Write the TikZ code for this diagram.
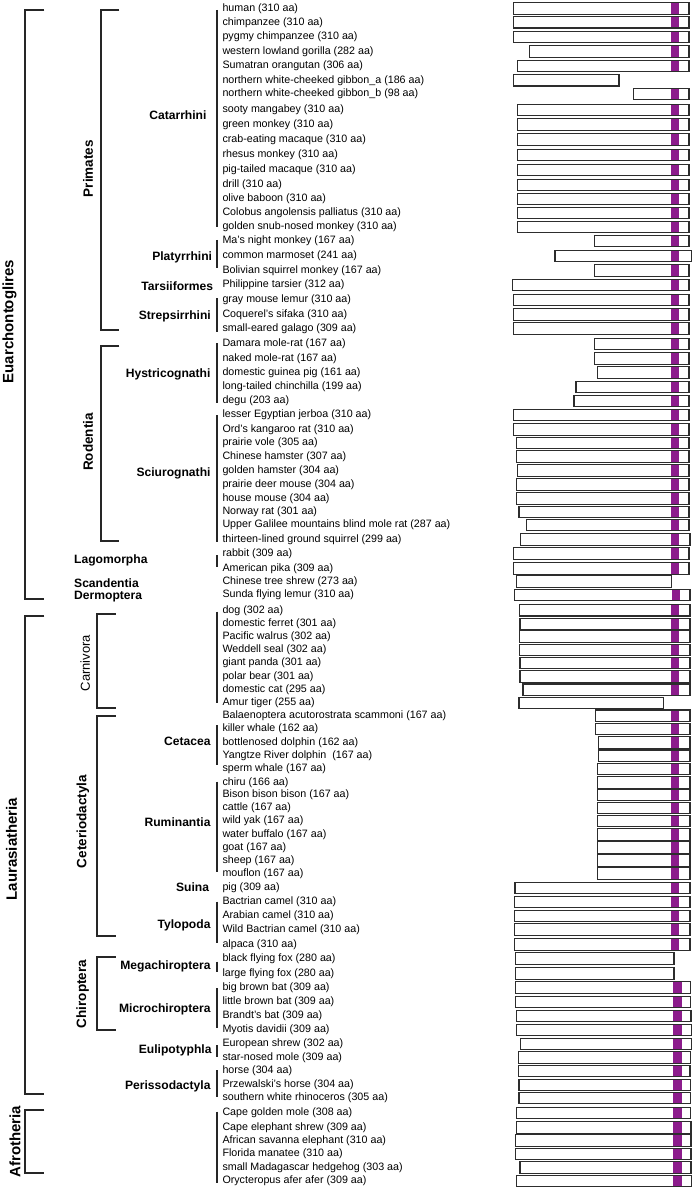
\documentclass[tikz,border=0pt]{standalone}
\usepackage{fontspec}
\setmainfont{Liberation Sans}
\usepackage{tikz}
\usetikzlibrary{positioning}
\definecolor{hitpurple}{RGB}{140,28,140}
\definecolor{barline}{RGB}{45,45,45}

\begin{document}
\begin{tikzpicture}[x=1pt,y=-1pt,
    species/.style={anchor=west,inner sep=0pt,font=\fontsize{10.7}{12}\selectfont},
    clade/.style={anchor=east,inner sep=0pt,font=\fontsize{12.1}{14}\selectfont\bfseries},
    ordlabel/.style={rotate=90,inner sep=0pt,font=\fontsize{13.5}{15}\selectfont\bfseries},
    suplabel/.style={rotate=90,inner sep=0pt,font=\fontsize{15}{17}\selectfont\bfseries},
    bracket/.style={line width=2pt,draw=black!85},
    groupline/.style={line width=1.7pt,draw=black!85},
    protein/.style={draw=barline,line width=1.3pt},
    hitband/.style={fill=hitpurple}]
    \useasboundingbox (0,0) rectangle (695,1190);

    % Species names and protein bars
    \foreach \y/\xl/\xr/\xp/\txt [count=\i] in {
        8.5/513.3/689/671/human (310 aa),
        22.3/513.3/689/671/chimpanzee (310 aa),
        37/513.3/689/671/pygmy chimpanzee (310 aa),
        51.5/529.3/689/671/western lowland gorilla (282 aa),
        66/517.7/689/671/Sumatran orangutan (306 aa),
        80.3/513.3/619/0/northern white-cheeked gibbon\_a (186 aa),
        94/633.3/689/671/northern white-cheeked gibbon\_b (98 aa),
        110/517.7/689/671/sooty mangabey (310 aa),
        124.5/517.7/689/671/green monkey (310 aa),
        139.5/517.7/689/671/crab-eating macaque (310 aa),
        155/517.7/689/671/rhesus monkey (310 aa),
        170/517.7/689/671/pig-tailed macaque (310 aa),
        185/517.7/689/671/drill (310 aa),
        199/517.7/689/671/olive baboon (310 aa),
        213/517.7/689/671/Colobus angolensis palliatus (310 aa),
        227/517.7/689/671/golden snub-nosed monkey (310 aa),
        241/594.3/689/671/Ma's night monkey (167 aa),
        256/555/691.7/671/common marmoset (241 aa),
        270.5/594.3/689/671/Bolivian squirrel monkey (167 aa),
        285/512.3/689/671/Philippine tarsier (312 aa),
        300/513.3/689/671/gray mouse lemur (310 aa),
        314.5/513.3/689/671/Coquerel's sifaka (310 aa),
        328.5/513.3/689/671/small-eared galago (309 aa),
        344/594.3/689/671/Damara mole-rat (167 aa),
        358.5/594.7/689/671/naked mole-rat (167 aa),
        372.5/597.7/689/671/domestic guinea pig (161 aa),
        387/576/689/671/long-tailed chinchilla (199 aa),
        401/574/689/671/degu (203 aa),
        415/513.3/689/671/lesser Egyptian jerboa (310 aa),
        429.5/513.3/689/671/Ord's kangaroo rat (310 aa),
        443/516.7/689/671/prairie vole (305 aa),
        456.5/516.7/689/671/Chinese hamster (307 aa),
        470.5/517.3/689/671/golden hamster (304 aa),
        484.5/516.7/689/671/prairie deer mouse (304 aa),
        498.5/516.7/689/671/house mouse (304 aa),
        512/519/689/671/Norway rat (301 aa),
        525/526.7/689/671/Upper Galilee mountains blind mole rat (287 aa),
        539.5/520.3/690/671/thirteen-lined ground squirrel (299 aa),
        553.5/513.3/689/671/rabbit (309 aa),
        568.5/513.3/689/671/American pika (309 aa),
        581.5/516.3/671.7/0/Chinese tree shrew (273 aa),
        595/514.3/690/672/Sunda flying lemur (310 aa),
        610.3/519.7/690/671/dog (302 aa),
        624/520/690/671/domestic ferret (301 aa),
        636.5/519.7/690/671/Pacific walrus (302 aa),
        650/519.3/690/671/Weddell seal (302 aa),
        663/520/690/671/giant panda (301 aa),
        676.5/520/690/671/polar bear (301 aa),
        689.7/523/690/671/domestic cat (295 aa),
        703/519/663.3/0/Amur tiger (255 aa),
        715.7/595.7/690/671/Balaenoptera acutorostrata scammoni (167 aa),
        729/595.7/690/671/killer whale (162 aa),
        742.5/598.3/690/671/bottlenosed dolphin (162 aa),
        755.7/598.3/690/671/Yangtze River dolphin\ \ (167 aa),
        769/597.7/690/671/sperm whale (167 aa),
        782.5/597.7/690/671/chiru (166 aa),
        795/597.7/690/671/Bison bison bison (167 aa),
        808/597.7/690/671/cattle (167 aa),
        821/597.7/690/671/wild yak (167 aa),
        834.5/597.7/690/671/water buffalo (167 aa),
        847.5/597.7/690/671/goat (167 aa),
        860.5/597.7/690/671/sheep (167 aa),
        873.5/597.7/690/671/mouflon (167 aa),
        888/515/690/671/pig (309 aa),
        902/514.7/690/671/Bactrian camel (310 aa),
        916/514.7/690/671/Arabian camel (310 aa),
        929.5/514.7/690/671/Wild Bactrian camel (310 aa),
        944.5/514.7/690/671/alpaca (310 aa),
        958.5/515.7/674/0/black flying fox (280 aa),
        973.5/515.7/674/0/large flying fox (280 aa),
        987.5/515.7/690.7/673.3/big brown bat (309 aa),
        1002/515.7/690.7/673.3/little brown bat (309 aa),
        1016/516.3/691/673.3/Brandt's bat (309 aa),
        1030/516.3/691.7/673.3/Myotis davidii (309 aa),
        1044/520.7/691.7/673.3/European shrew (302 aa),
        1057.5/518.3/690.7/673.3/star-nosed mole (309 aa),
        1071/518.3/690/673.3/horse (304 aa),
        1085/519/690.7/673.3/Przewalski's horse (304 aa),
        1098/519/690.7/673.3/southern white rhinoceros (305 aa),
        1113/516.7/690.7/673.3/Cape golden mole (308 aa),
        1127.5/516.3/691/673.3/Cape elephant shrew (309 aa),
        1140.5/515.7/691/673.3/African savanna elephant (310 aa),
        1154/515.7/691/673.3/Florida manatee (310 aa),
        1167.5/520/691/673.3/small Madagascar hedgehog (303 aa),
        1181/516.7/691.7/673.3/Orycteropus afer afer (309 aa)}{
        \node[species] (sp\i) at (222.3,\y) {\txt};
        \fill[white] (\xl,\y-5.8) rectangle (\xr,\y+5.8);
        \ifdim\xp pt>0pt
            \fill[hitband] (\xp,\y-5.8) rectangle (\xp+8.3,\y+5.8);
        \fi
        \draw[protein] (\xl,\y-5.8) rectangle (\xr,\y+5.8);
    }

    % Superorder brackets
    \draw[bracket] (44.3,10) -- (25.3,10) -- (25.3,599) -- (44.3,599);
    \draw[bracket] (44.3,615.7) -- (25.3,615.7) -- (25.3,1094) -- (44.3,1094);
    \draw[bracket] (44.3,1110) -- (25.3,1110) -- (25.3,1172.7) -- (44.3,1172.7);
    \node[suplabel] (euarch) at (9.5,321.5) {Euarchontoglires};
    \node[suplabel] (laura) at (11.5,849) {Laurasiatheria};
    \node[suplabel] (afro) at (15,1141.7) {Afrotheria};

    % Order brackets
    \draw[bracket] (119.3,10) -- (100.7,10) -- (100.7,330) -- (119.3,330);
    \draw[bracket] (119.3,345.7) -- (100.7,345.7) -- (100.7,540.7) -- (119.3,540.7);
    \draw[bracket] (115.7,614) -- (96.7,614) -- (96.7,708.3) -- (115.7,708.3);
    \draw[bracket] (115.7,715.7) -- (96.7,715.7) -- (96.7,935.7) -- (115.7,935.7);
    \draw[bracket] (115.7,956.7) -- (96.7,956.7) -- (96.7,1030) -- (115.7,1030);
    \node[ordlabel] (primates) at (88,168.5) {Primates};
    \node[ordlabel] (rodentia) at (88,442) {Rodentia};
    \node[ordlabel,font=\fontsize{13}{15}\selectfont] (carnivora) at (85.3,663) {Carnivora};
    \node[ordlabel] (cetartio) at (83,821.5) {Ceteriodactyla};
    \node[ordlabel] (chiroptera) at (82.7,994) {Chiroptera};

    % Clade labels
    \node[clade] (catarrhini) at (206.7,115) {Catarrhini};
    \node[clade] (platyrrhini) at (212.3,257.3) {Platyrrhini};
    \node[clade] (tarsii) at (213.3,286) {Tarsiiformes};
    \node[clade] (strepsi) at (211,316.7) {Strepsirrhini};
    \node[clade] (hystrico) at (210.7,374.3) {Hystricognathi};
    \node[clade] (sciuro) at (210.7,473.3) {Sciurognathi};
    \node[clade,anchor=west] (lagomorpha) at (74,560) {Lagomorpha};
    \node[clade,anchor=west] (scandentia) at (74,582.7) {Scandentia};
    \node[clade,anchor=west] (dermoptera) at (74,596.5) {Dermoptera};
    \node[clade] (cetacea) at (210.7,741.7) {Cetacea};
    \node[clade] (ruminantia) at (210.7,821.7) {Ruminantia};
    \node[clade] (suina) at (209.3,886.7) {Suina};
    \node[clade] (tylopoda) at (210.7,925) {Tylopoda};
    \node[clade] (megachiro) at (210.7,966.7) {Megachiroptera};
    \node[clade] (microchiro) at (210.7,1009.3) {Microchiroptera};
    \node[clade] (eulipo) at (211.7,1050.7) {Eulipotyphla};
    \node[clade] (perisso) at (210.7,1086) {Perissodactyla};

    % Group lines next to the species
    \draw[groupline] (216.7,10) -- (216.7,226.7);
    \draw[groupline] (216.7,240) -- (216.7,268.3);
    \draw[groupline] (216.7,298.3) -- (216.7,331.7);
    \draw[groupline] (216.7,343.3) -- (216.7,403.3);
    \draw[groupline] (216.7,415) -- (216.7,541.7);
    \draw[groupline] (216.7,555) -- (216.7,566.7);
    \draw[groupline] (216.7,611.7) -- (216.7,703.3);
    \draw[groupline] (216.7,725) -- (216.7,765);
    \draw[groupline] (216.7,781.7) -- (216.7,871.7);
    \draw[groupline] (216.7,901.7) -- (216.7,943.3);
    \draw[groupline] (216.7,961.7) -- (216.7,971.7);
    \draw[groupline] (216.7,988.3) -- (216.7,1028.3);
    \draw[groupline] (216.7,1045) -- (216.7,1056.7);
    \draw[groupline] (216.7,1070) -- (216.7,1096.7);
    \draw[groupline] (216.7,1111.7) -- (216.7,1182.7);
\end{tikzpicture}
\end{document}
